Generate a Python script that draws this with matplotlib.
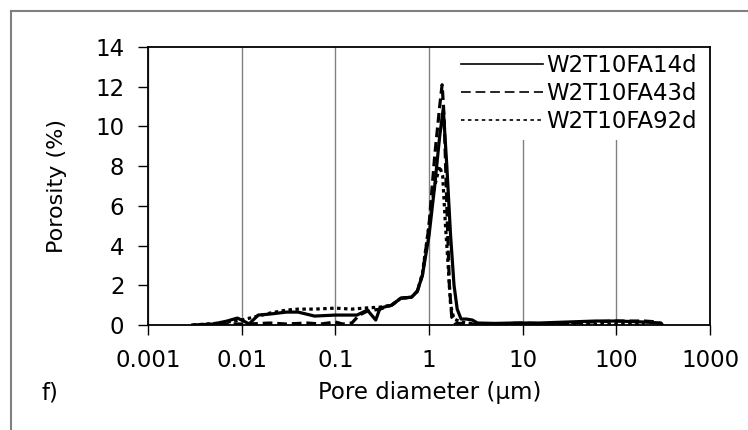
import numpy as np
import matplotlib
matplotlib.use('Agg')
import matplotlib.pyplot as plt
from matplotlib.lines import Line2D

# Data
# -------------------------
labels = ['W2T10FA14d', 'W2T10FA43d', 'W2T10FA92d']

d_14 = [0.003, 0.005, 0.007, 0.009, 0.0105, 0.012, 0.015, 0.02, 0.03, 0.04, 0.06, 0.1, 0.17,
        0.22, 0.27, 0.3, 0.4, 0.5, 0.65, 0.75, 0.85, 1.0, 1.15, 1.3, 1.42, 1.55, 1.7, 1.85, 2.0,
        2.2, 2.5, 2.9, 3.3, 5, 8, 15, 30, 60, 100, 200, 300, 310]
p_14 = [0.0, 0.05, 0.2, 0.35, 0.2, 0.05, 0.5, 0.55, 0.65, 0.65, 0.45, 0.5, 0.5,
        0.75, 0.25, 0.85, 1.0, 1.35, 1.4, 1.7, 2.5, 4.5, 7.0, 9.5, 10.9, 8.0, 4.5, 2.0, 0.8,
        0.3, 0.3, 0.25, 0.1, 0.08, 0.1, 0.1, 0.15, 0.2, 0.2, 0.15, 0.1, 0.0]

d_43 = [0.004, 0.008, 0.012, 0.02, 0.03, 0.05, 0.07, 0.1, 0.12, 0.15, 0.18, 0.22, 0.3, 0.4,
        0.5, 0.65, 0.75, 0.85, 1.0, 1.15, 1.3, 1.38, 1.45, 1.55, 1.65, 1.75, 1.9, 2.5, 5, 10,
        20, 50, 100, 200, 280, 300]
p_43 = [0.0, 0.05, 0.05, 0.1, 0.05, 0.1, 0.05, 0.15, 0.05, 0.1, 0.5, 0.7, 0.8, 1.0,
        1.35, 1.4, 1.7, 2.5, 5.0, 8.5, 11.0, 12.1, 10.5, 6.0, 2.0, 0.4, 0.1, 0.05, 0.05, 0.1,
        0.05, 0.15, 0.2, 0.2, 0.15, 0.0]

d_92 = [0.003, 0.006, 0.01, 0.015, 0.02, 0.03, 0.04, 0.06, 0.1, 0.15, 0.2, 0.3, 0.4, 0.5,
        0.65, 0.75, 0.85, 1.0, 1.15, 1.3, 1.4, 1.5, 1.6, 1.7, 1.85, 2.2, 3, 10, 100, 200]
p_92 = [0.0, 0.1, 0.25, 0.45, 0.6, 0.75, 0.8, 0.8, 0.85, 0.8, 0.85, 0.9, 1.0, 1.35,
        1.4, 1.7, 2.6, 5.0, 7.0, 8.0, 7.5, 5.0, 3.0, 1.0, 0.3, 0.15, 0.05, 0.05, 0.05, 0.05]

x_ticks = [0.001, 0.01, 0.1, 1, 10, 100, 1000]
x_ticklabels = ['0.001', '0.01', '0.1', '1', '10', '100', '1000']
y_ticks = [0, 2, 4, 6, 8, 10, 12, 14]

# figure settings
# ---------------
plt.rcParams['font.family'] = ['DejaVu Sans']
plt.rcParams['lines.scale_dashes'] = False
fs = 16.5
lw = 2.3

fig = plt.figure(figsize=(7.48, 4.30), dpi=100)
ax = fig.add_axes([148/748, 1-325/430, (710-148)/748, (325-47)/430])

ax.plot(d_14, p_14, color='k', linewidth=lw, linestyle='-', label=labels[0])
ax.plot(d_43, p_43, color='k', linewidth=lw, dashes=(7, 3.5), label=labels[1])
ax.plot(d_92, p_92, color='k', linewidth=lw, dashes=(2.5, 2.5), label=labels[2])

ax.set_xscale('log')
ax.set_xlim(0.001, 1000)
ax.set_ylim(0, 14)
ax.set_xticks(x_ticks)
ax.set_xticklabels(x_ticklabels)
ax.set_yticks(y_ticks)
ax.minorticks_off()
ax.tick_params(axis='both', direction='out', length=7, width=1, labelsize=fs, pad=10, colors='k')
ax.xaxis.grid(True, color='#808080', linewidth=1)
ax.set_axisbelow(True)
for s in ax.spines.values():
	s.set_linewidth(1.3)
	s.set_color('k')

ax.set_ylabel('Porosity (%)', fontsize=fs-0.5, labelpad=20)
fig.text(430/748, 1-393/430, 'Pore diameter (\u00b5m)', fontsize=fs, ha='center', va='center')
fig.text(50/748, 1-393/430, 'f)', fontsize=fs, ha='center', va='center')

leg = ax.legend(loc='upper right', bbox_to_anchor=(704/748, 1-47/430), bbox_transform=fig.transFigure,
				fontsize=fs, handlelength=3.6, handletextpad=0.15, labelspacing=0.22,
				borderpad=0.3, borderaxespad=0, frameon=True, fancybox=False, framealpha=1)
leg.get_frame().set_edgecolor('none')
leg.get_frame().set_facecolor('white')
leg.set_zorder(2.2)  # keep spines drawn on top of the legend box
for line in leg.get_lines():
	line.set_linewidth(1.2)

# outer frame (grey lines top and left)
fig.add_artist(Line2D([11/748, 1], [1-11/430, 1-11/430], color='#808080', linewidth=1.5))
fig.add_artist(Line2D([11/748, 11/748], [0, 1-11/430], color='#808080', linewidth=1.5))

plt.savefig('out.png', dpi=100, facecolor='w')
